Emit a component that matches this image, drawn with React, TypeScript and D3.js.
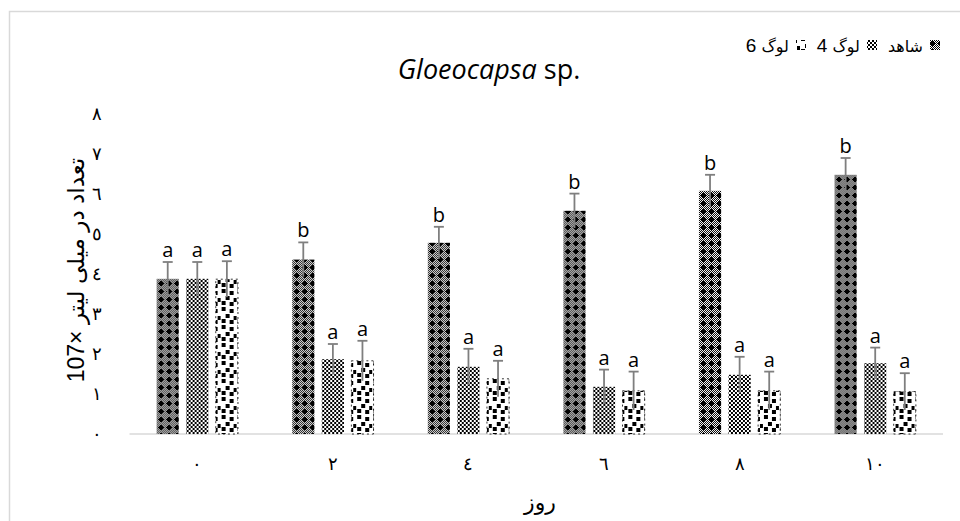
import React from "react";
import * as d3 from "d3";

const days = ["٠", "٢", "٤", "٦", "٨", "١٠"];
const seriesNames = ["شاهد", "لوگ 4", "لوگ 6"];
const control = [3.88, 4.36, 4.78, 5.58, 6.08, 6.48];
const log4 = [3.88, 1.87, 1.68, 1.18, 1.48, 1.77];
const log6 = [3.87, 1.83, 1.38, 1.08, 1.08, 1.06];
const controlErr = [0.42, 0.43, 0.4, 0.43, 0.4, 0.42];
const log4Err = [0.42, 0.38, 0.45, 0.43, 0.45, 0.39];
const log6Err = [0.45, 0.5, 0.45, 0.48, 0.48, 0.46];
const controlLetters = ["a", "b", "b", "b", "b", "b"];
const log4Letters = ["a", "a", "a", "a", "a", "a"];
const log6Letters = ["a", "a", "a", "a", "a", "a"];
const yTicks = [0, 1, 2, 3, 4, 5, 6, 7, 8];
const yTickLabels = ["٠", "١", "٢", "٣", "٤", "٥", "٦", "٧", "٨"];

const W = 960;
const H = 521;
const margin = { left: 129.5, right: 17, top: 114, bottom: 87 };

// tile pixel maps for the hatch patterns
const ctrlTile = [
  "#.#.#.#.",
  ".#.###.#",
  "#.#####.",
  ".#######",
  "#.#####.",
  ".#.###.#",
  "#.#.#.#.",
  ".#.#.#.#",
];
const log4Tile = ["##..", "##..", "..##", "..##"];
const log6Squares = [
  [1, 1], [9, 3], [5, 8], [13, 10], [1, 13], [9, 14],
];

function Tile({ id, rows }: { id: string; rows: string[] }) {
  const w = rows[0].length;
  const h = rows.length;
  const cells: JSX.Element[] = [];
  rows.forEach((r, y) =>
    r.split("").forEach((c, x) => {
      if (c === "#") cells.push(<rect key={x + "-" + y} x={x} y={y} width={1} height={1} fill="#000" />);
    })
  );
  return (
    <pattern id={id} width={w} height={h} patternUnits="userSpaceOnUse">
      <rect width={w} height={h} fill="#fff" />
      {cells}
    </pattern>
  );
}

export default function App() {
  const series = [
    { vals: control, err: controlErr, letters: controlLetters, fill: "url(#pCtrl)" },
    { vals: log4, err: log4Err, letters: log4Letters, fill: "url(#pLog4)" },
    { vals: log6, err: log6Err, letters: log6Letters, fill: "url(#pLog6)" },
  ];

  const x0 = d3
    .scaleBand<string>()
    .domain(days)
    .range([margin.left, W - margin.right])
    .paddingInner(0.4)
    .paddingOuter(0.2);
  const x1 = d3
    .scaleBand<number>()
    .domain([0, 1, 2])
    .range([0, x0.bandwidth()])
    .paddingInner(0.25);
  const y = d3.scaleLinear().domain([0, 8]).range([H - margin.bottom, margin.top]);

  const legendItems = [
    { name: seriesNames[0], fill: "url(#pCtrl)", sx: 930 },
    { name: seriesNames[1], fill: "url(#pLog4)", sx: 867 },
    { name: seriesNames[2], fill: "url(#pLog6)", sx: 796 },
  ];

  const arFont = "Liberation Sans, DejaVu Sans, sans-serif";
  const digitFont = "Liberation Serif, DejaVu Serif, serif";

  return (
    <svg width={W} height={H} style={{ position: "absolute", left: 0, top: 0 }}>
      <defs>
        <Tile id="pCtrl" rows={ctrlTile} />
        <Tile id="pLog4" rows={log4Tile} />
        <pattern id="pLog6" width={16} height={18} patternUnits="userSpaceOnUse">
          <rect width={16} height={18} fill="#fff" />
          {log6Squares.map(([sx, sy], i) => (
            <rect key={i} x={sx} y={sy} width={4} height={4} fill="#000" />
          ))}
        </pattern>
      </defs>
      <rect width={W} height={H} fill="#fff" />
      <rect x={9.5} y={11.5} width={W + 20} height={H + 20} fill="none" stroke="#d9d9d9" strokeWidth={1.5} />

      <text x={489} y={79} textAnchor="middle" fontFamily="Open Sans, sans-serif" fontSize={27} fill="#000">
        <tspan fontStyle="italic">Gloeocapsa</tspan> sp.
      </text>

      {legendItems.map((l) => {
        const parts = l.name.split(" ");
        return (
          <g key={l.name}>
            <rect x={l.sx} y={40} width={10} height={10} fill={l.fill} />
            <text x={l.sx - 7} y={52} textAnchor="end" fontFamily={arFont} fontSize={16} fill="#000">
              {parts[0]}
              {parts[1] ? <tspan fontSize={19}>{" " + parts[1]}</tspan> : null}
            </text>
          </g>
        );
      })}

      {yTicks.map((t, i) => (
        <text key={t} x={97} y={y(t) + 6} textAnchor="middle" fontFamily={digitFont} fontSize={18} fill="#000">
          {yTickLabels[i]}
        </text>
      ))}

      <text
        transform={`translate(84,${y(4) - 4}) rotate(-90)`}
        textAnchor="middle"
        fontFamily={arFont}
        fontSize={23}
        fill="#000"
      >
        107× تعداد در میلی لیتر
      </text>

      <line x1={margin.left} x2={W - margin.right} y1={y(0)} y2={y(0)} stroke="#d9d9d9" strokeWidth={1.5} />

      {days.map((d, gi) => (
        <g key={d} transform={`translate(${x0(d)},0)`}>
          {series.map((s, si) => {
            const bx = x1(si)!;
            const bw = x1.bandwidth();
            const v = s.vals[gi];
            const e = s.err[gi];
            const cx = bx + bw / 2;
            return (
              <g key={si}>
                <rect
                  x={bx}
                  y={y(v)}
                  width={bw}
                  height={y(0) - y(v)}
                  fill={s.fill}
                  stroke={si === 2 ? "#000" : "none"}
                  strokeWidth={si === 2 ? 0.8 : 0}
                  strokeDasharray={si === 2 ? "2,3" : undefined}
                />
                <line x1={cx} x2={cx} y1={y(v + e)} y2={y(v - e)} stroke="#7f7f7f" strokeWidth={1.8} />
                <line x1={cx - 5} x2={cx + 5} y1={y(v + e)} y2={y(v + e)} stroke="#7f7f7f" strokeWidth={1.8} />
                <text x={cx} y={y(v + e) - 5} textAnchor="middle" fontFamily="Open Sans, sans-serif" fontSize={20} fill="#000">
                  {s.letters[gi]}
                </text>
              </g>
            );
          })}
          <text x={x0.bandwidth() / 2} y={y(0) + 36} textAnchor="middle" fontFamily={digitFont} fontSize={18} fill="#000">
            {d}
          </text>
        </g>
      ))}

      <text x={540} y={510} textAnchor="middle" fontFamily={arFont} fontSize={22} fill="#000">
        روز
      </text>
    </svg>
  );
}
